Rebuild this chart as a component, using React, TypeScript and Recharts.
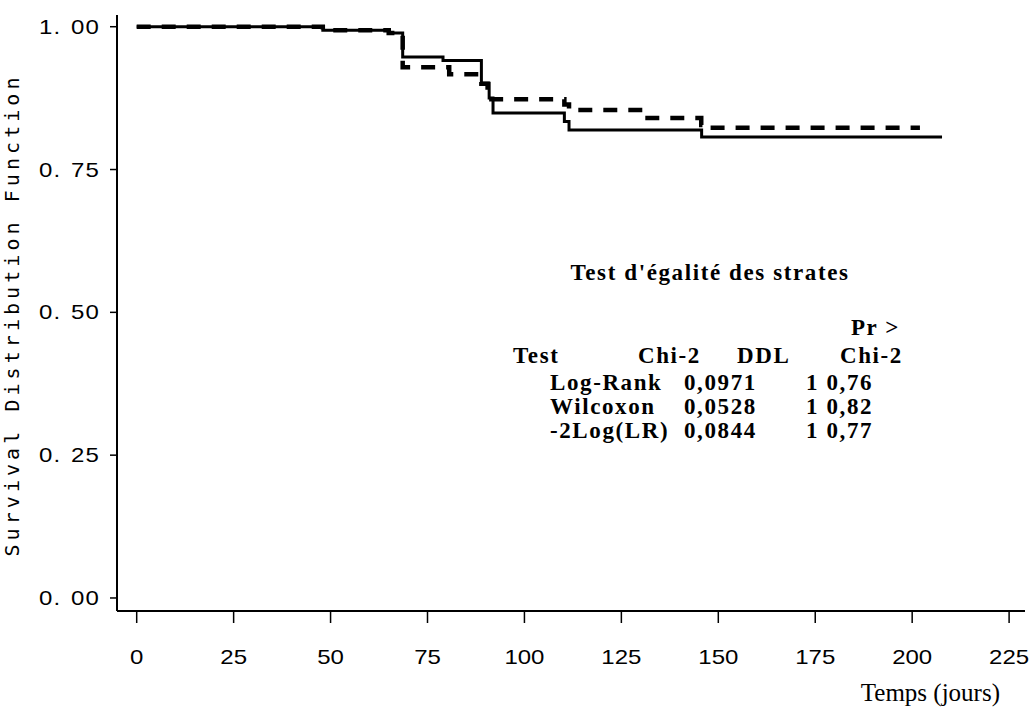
import React from 'react';
import { LineChart, Line, XAxis, YAxis } from 'recharts';

// Kaplan-Meier step data (time in days, survival)
const solidTimes = [0, 48, 65, 68.6, 79, 88.9, 90.9, 91.9, 110.3, 111.5, 145.7, 207.7];
const solidSurv = [1.0, 0.994, 0.989, 0.947, 0.941, 0.901, 0.875, 0.849, 0.834, 0.819, 0.807, 0.807];

const dashedTimes = [0, 48, 65, 68.6, 80.6, 88.9, 90.5, 110.3, 111.5, 131, 145.6, 147, 202];
const dashedSurv = [1.0, 0.994, 0.989, 0.929, 0.917, 0.9, 0.873, 0.864, 0.854, 0.84, 0.828, 0.823, 0.823];

const xTicks = [0, 25, 50, 75, 100, 125, 150, 175, 200, 225];
const yTicks = [0, 0.25, 0.5, 0.75, 1.0];

const yAxisTitle = 'Survival Distribution Function';
const xAxisTitle = 'Temps (jours)';
const tableTitle = "Test d'égalité des strates";
const tableHeader = ['Test', 'Chi-2', 'DDL', 'Chi-2'];
const tableTests = ['Log-Rank', 'Wilcoxon', '-2Log(LR)'];
const tableChi2 = ['0,0971', '0,0528', '0,0844'];
const tableDDL = ['1', '1', '1'];
const tablePr = ['0,76', '0,82', '0,77'];

const solidData = solidTimes.map((t, i) => ({ t, s: solidSurv[i] }));
const dashedData = dashedTimes.map((t, i) => ({ t, s: dashedSurv[i] }));

const tickFont = { fontFamily: 'Liberation Sans, Arial, sans-serif', fontSize: 20, fill: '#000' };

const YTick = (props: any) => {
  const { x, y, payload } = props;
  const [a, b] = Number(payload.value).toFixed(2).split('.');
  return (
    <text transform={`translate(${x},${y}) scale(1.2,1)`} x={0} y={0} dy="0.355em" textAnchor="end" style={{ ...tickFont, letterSpacing: 1 } as any}>
      <tspan>{a}.</tspan>
      <tspan dx={8}>{b}</tspan>
    </text>
  );
};

const XTick = (props: any) => {
  const { x, y, payload } = props;
  return (
    <text transform={`translate(${x},${y}) scale(1.2,1)`} x={0} y={0} dy="0.71em" textAnchor="middle" style={tickFont as any}>
      {payload.value}
    </text>
  );
};

const serifBold = { fontFamily: 'Liberation Serif, Times New Roman, serif', fontWeight: 'bold' as const, fontSize: 23, letterSpacing: 1.6, fill: '#000' };

export default function App() {
  const rowY = [390, 414, 438];
  return (
    <div style={{ position: 'absolute', left: 0, top: 0, width: 1031, height: 715, background: '#fff' }}>
      <LineChart width={1031} height={715} margin={{ top: 15, right: 6, left: 0, bottom: 0 }}>
        <XAxis
          dataKey="t"
          type="number"
          domain={[-5.08, 229.1]}
          ticks={xTicks}
          allowDataOverflow
          height={104}
          tickSize={12}
          tickMargin={27}
          stroke="#000"
          axisLine={{ stroke: '#000', strokeWidth: 2 }}
          tickLine={{ stroke: '#000', strokeWidth: 1.5 }}
          tick={<XTick />}
        />
        <XAxis
          xAxisId="top"
          orientation="top"
          type="number"
          domain={[0, 1]}
          height={0}
          tick={false}
          tickLine={false}
          axisLine={{ stroke: '#000', strokeWidth: 2 }}
        />
        <YAxis
          type="number"
          domain={[-0.0228, 1.0205]}
          ticks={yTicks}
          allowDataOverflow
          width={117}
          tickSize={7}
          tickMargin={10}
          axisLine={{ stroke: '#000', strokeWidth: 2 }}
          tickLine={{ stroke: '#000', strokeWidth: 1.5 }}
          tick={<YTick />}
        />
        <YAxis
          yAxisId="right"
          orientation="right"
          type="number"
          domain={[0, 1]}
          width={0}
          tick={false}
          tickLine={false}
          axisLine={{ stroke: '#000', strokeWidth: 2 }}
        />
        <Line
          data={solidData}
          dataKey="s"
          type="stepAfter"
          stroke="#000"
          strokeWidth={3}
          dot={false}
          isAnimationActive={false}
        />
        <Line
          data={dashedData}
          dataKey="s"
          type="stepAfter"
          stroke="#000"
          strokeWidth={4.5}
          strokeDasharray="14 11"
          dot={false}
          isAnimationActive={false}
        />
      </LineChart>
      <svg width={1031} height={715} style={{ position: 'absolute', left: 0, top: 0, pointerEvents: 'none' }}>
        <text
          transform="translate(19, 317) rotate(-90)"
          textAnchor="middle"
          textLength={479}
          lengthAdjust="spacing"
          style={{ fontFamily: 'DejaVu Sans Mono, monospace', fontSize: 20, fill: '#000' }}
        >
          {yAxisTitle}
        </text>
        <text x={1000} y={701} textAnchor="end" style={{ fontFamily: 'Liberation Serif, Times New Roman, serif', fontSize: 25, fill: '#000' }}>
          {xAxisTitle}
        </text>
        <text x={710} y={280} textAnchor="middle" style={serifBold}>{tableTitle}</text>
        <text x={900} y={335} textAnchor="end" style={serifBold}>Pr &gt;</text>
        <text x={513} y={363} style={serifBold}>{tableHeader[0]}</text>
        <text x={638} y={363} style={serifBold}>{tableHeader[1]}</text>
        <text x={737} y={363} style={serifBold}>{tableHeader[2]}</text>
        <text x={840} y={363} style={serifBold}>{tableHeader[3]}</text>
        {tableTests.map((name, i) => (
          <g key={name}>
            <text x={550} y={rowY[i]} style={serifBold}>{name}</text>
            <text x={684} y={rowY[i]} style={serifBold}>{tableChi2[i]}</text>
            <text x={806} y={rowY[i]} style={serifBold}>{tableDDL[i]} {tablePr[i]}</text>
          </g>
        ))}
      </svg>
    </div>
  );
}
